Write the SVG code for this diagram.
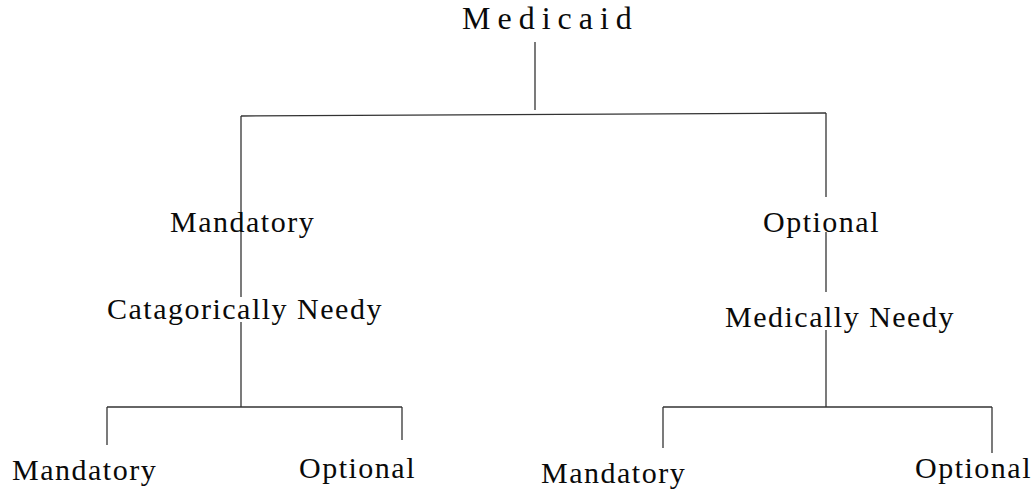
<svg xmlns="http://www.w3.org/2000/svg" width="1035" height="491" viewBox="0 0 1035 491">
<style>
.t{font-family:"Liberation Serif","Times New Roman",serif;font-size:30px;letter-spacing:1.5px;fill:#0a0a0a}
.h{font-size:32px;letter-spacing:7px}
.c line{stroke:#333;stroke-width:1.3}
</style>
<rect width="1035" height="491" fill="#fff"/>
<g class="c" id="connectors">
<line x1="535" y1="42" x2="535" y2="110"/>
<line x1="241" y1="116" x2="826" y2="113"/>
<line x1="241" y1="116" x2="241" y2="297"/>
<line x1="241" y1="322" x2="241" y2="407"/>
<line x1="826" y1="113" x2="826" y2="197"/>
<line x1="826" y1="232" x2="826" y2="292"/>
<line x1="826" y1="330" x2="826" y2="407"/>
<line x1="107" y1="407" x2="402" y2="407"/>
<line x1="107" y1="407" x2="107" y2="445"/>
<line x1="402" y1="407" x2="402" y2="440"/>
<line x1="663" y1="407" x2="992" y2="407"/>
<line x1="663" y1="407" x2="663" y2="448"/>
<line x1="992" y1="407" x2="992" y2="453"/>
</g>
<g id="medicaid"><text class="t h" x="462" y="29">Medicaid</text></g>
<g id="mandatory"><text class="t" x="170" y="232">Mandatory</text></g>
<g id="categorically-needy"><text class="t" x="107" y="319">Catagorically Needy</text></g>
<g id="optional"><text class="t" x="763" y="232">Optional</text></g>
<g id="medically-needy"><text class="t" x="725" y="327">Medically Needy</text></g>
<g id="cn-mandatory"><text class="t" x="12" y="480">Mandatory</text></g>
<g id="cn-optional"><text class="t" x="299" y="478">Optional</text></g>
<g id="mn-mandatory"><text class="t" x="541" y="483">Mandatory</text></g>
<g id="mn-optional"><text class="t" x="915" y="478">Optional</text></g>
</svg>
